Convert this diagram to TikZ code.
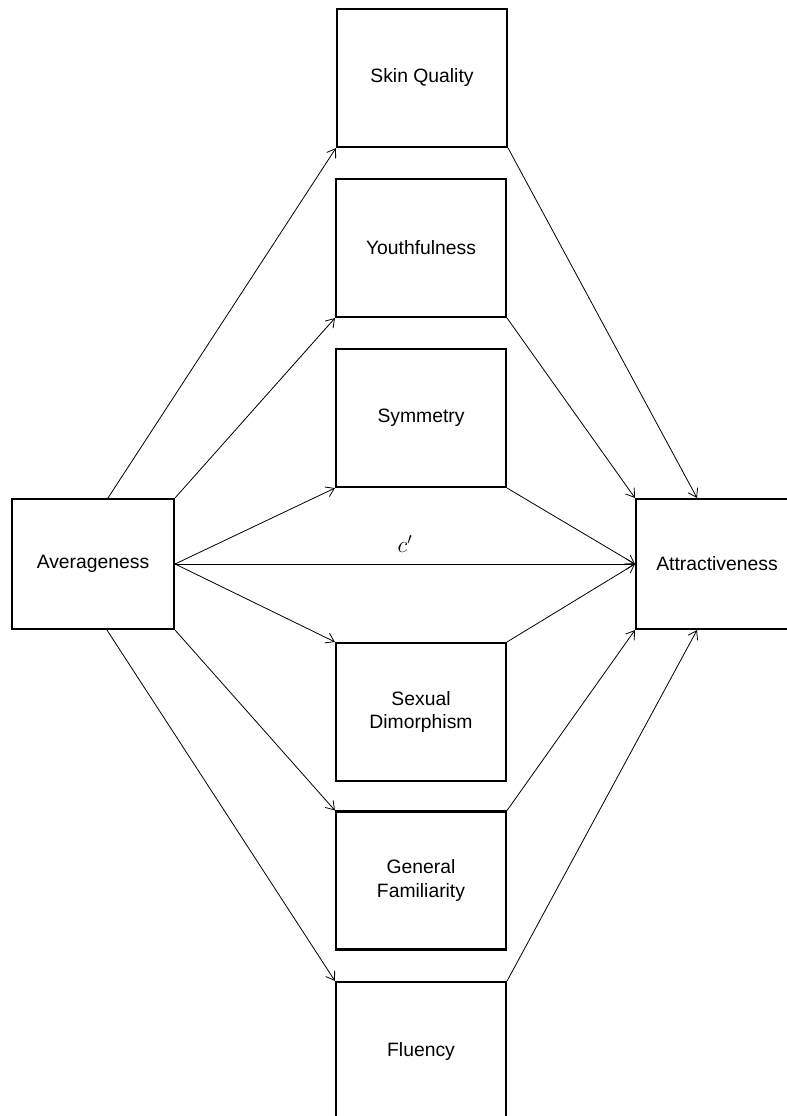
\documentclass[tikz,border=0pt]{standalone}
\usepackage{fontspec}
\setmainfont{Liberation Sans}
\usetikzlibrary{arrows.meta,calc}
\begin{document}
\begin{tikzpicture}[x=0.75pt,y=-0.75pt,
  box/.style={draw, line width=1.6pt, rectangle, align=center, font=\fontsize{14.5}{17.5}\selectfont, inner sep=0pt},
  mid/.style={box, minimum width=127.5pt, minimum height=103.5pt},
  side/.style={box, minimum width=121.5pt, minimum height=97.5pt},
  arr/.style={-{Straight Barb[length=6pt,width=8pt]}, line width=0.6pt}]
\useasboundingbox (0,0) rectangle (787,1116);
\clip (0,0) rectangle (787,1116);
\fill[white] (0,0) rectangle (787,1116);
\node[mid] (sq) at (422,78) {Skin Quality};
\node[mid] (yo) at (421,248) {Youthfulness};
\node[mid] (sy) at (421,418) {Symmetry};
\node[mid] (sd) at (421,712) {Sexual\\Dimorphism};
\node[mid] (gf) at (421,880.5) {General\\Familiarity};
\node[mid] (fl) at (421,1051) {Fluency};
\node[side] (av) at (93,564) {Averageness};
\node[side] (at) at (717,564) {Attractiveness};
\coordinate (avt) at ($(av.north)+(15,0)$);
\coordinate (avb) at ($(av.south)+(14,0)$);
\coordinate (att) at ($(at.north)+(-20,0)$);
\coordinate (atb) at ($(at.south)+(-20,0)$);
\draw[arr] (avt) -- (sq.south west);
\draw[arr] (av.north east) -- (yo.south west);
\draw[arr] (av.east) -- (sy.south west);
\draw[arr] (av.east) -- node[above=5pt, font=\fontsize{18}{20}\selectfont] (cp) {$c'$} (at.west);
\draw[arr] (av.east) -- (sd.north west);
\draw[arr] (av.south east) -- (gf.north west);
\draw[arr] (avb) -- (fl.north west);
\draw[arr] (sq.south east) -- (att);
\draw[arr] (yo.south east) -- (at.north west);
\draw[arr] (sy.south east) -- (at.west);
\draw[arr] (sd.north east) -- (at.west);
\draw[arr] (gf.north east) -- (at.south west);
\draw[arr] (fl.north east) -- (atb);
\end{tikzpicture}
\end{document}
